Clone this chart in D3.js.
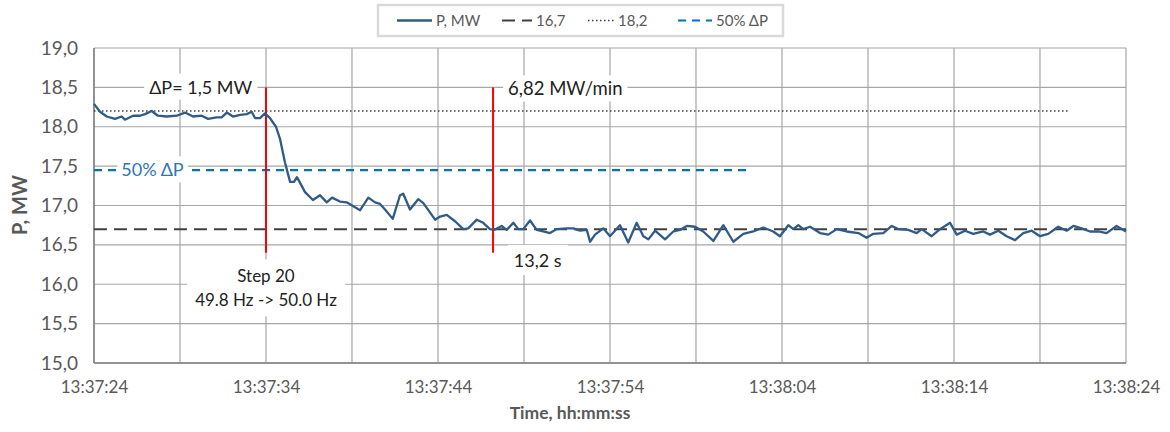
<!DOCTYPE html>
<html>
<head>
<meta charset="utf-8">
<script src="https://cdn.jsdelivr.net/npm/d3@7"></script>
<style>
  body { margin: 0; background: #fff; }
  svg { font-family: Lato, "Noto Sans", sans-serif; }
</style>
</head>
<body>
<div id="chart"></div>
<script>
var w = 1170;
var h = 432;

// seconds after 13:37:24
var secs = [0.0, 0.35, 0.74, 1.22, 1.61, 1.80, 2.27, 2.67, 2.97, 3.35, 3.72, 4.23, 4.81, 5.29, 5.76, 6.26,
  6.63, 7.13, 7.42, 7.72, 8.08, 8.49, 8.88, 9.17, 9.36, 9.65, 9.94, 10.23, 10.58, 10.81, 11.10, 11.40,
  11.63, 11.80, 12.27, 12.73, 13.14, 13.53, 13.84, 14.30, 14.69, 15.08, 15.47, 15.95, 16.34, 16.63, 16.92,
  17.37, 17.79, 17.98, 18.37, 18.85, 19.15, 19.83, 20.12, 20.51, 20.99, 21.47, 21.76, 22.25, 22.63, 23.02,
  23.26, 23.70, 23.99, 24.38, 24.67, 24.96, 25.35, 25.74, 26.12, 26.51, 26.90, 27.48, 27.87, 28.26, 28.65,
  28.84, 29.13, 29.61, 30.00, 30.58, 31.06, 31.55, 31.94, 32.23, 32.62, 33.20, 33.68, 34.07, 34.46, 34.94,
  35.42, 36.01, 36.59, 37.17, 37.75, 38.33, 38.91, 39.49, 39.88, 40.37, 40.66, 40.95, 41.24, 41.63, 42.21,
  42.69, 43.18, 43.76, 44.44, 44.92, 45.31, 45.89, 46.38, 46.76, 47.34, 47.83, 48.12, 48.70, 49.19, 49.77,
  50.16, 50.64, 51.12, 51.70, 52.09, 52.58, 53.06, 53.55, 54.03, 54.52, 55.00, 55.48, 56.06, 56.55, 56.94,
  57.42, 57.91, 58.39, 58.87, 59.45, 60.00];

var power = [18.29, 18.19, 18.13, 18.10, 18.13, 18.09, 18.14, 18.14, 18.16, 18.20, 18.14, 18.13, 18.14, 18.18, 18.13, 18.14,
  18.10, 18.12, 18.12, 18.18, 18.13, 18.15, 18.16, 18.19, 18.11, 18.11, 18.17, 18.11, 18.00, 17.85, 17.55, 17.30,
  17.30, 17.36, 17.17, 17.07, 17.13, 17.04, 17.10, 17.05, 17.04, 16.99, 16.94, 17.10, 17.04, 17.02, 16.95,
  16.83, 17.13, 17.15, 16.95, 17.08, 17.03, 16.82, 16.86, 16.88, 16.80, 16.70, 16.71, 16.82, 16.78, 16.70,
  16.69, 16.74, 16.69, 16.78, 16.70, 16.70, 16.81, 16.69, 16.67, 16.65, 16.70, 16.71, 16.71, 16.68, 16.69,
  16.54, 16.63, 16.71, 16.61, 16.75, 16.53, 16.78, 16.61, 16.57, 16.68, 16.57, 16.67, 16.69, 16.74, 16.73,
  16.67, 16.55, 16.75, 16.54, 16.64, 16.67, 16.72, 16.67, 16.61, 16.75, 16.70, 16.75, 16.70, 16.73, 16.65,
  16.63, 16.70, 16.67, 16.65, 16.59, 16.64, 16.65, 16.74, 16.70, 16.69, 16.65, 16.70, 16.61, 16.70, 16.78,
  16.63, 16.68, 16.64, 16.67, 16.63, 16.68, 16.61, 16.56, 16.65, 16.68, 16.61, 16.64, 16.73, 16.68, 16.74,
  16.71, 16.67, 16.67, 16.65, 16.74, 16.67];

// reference lines: value, start sec, end sec
var refNames = ["16,7", "18,2", "50% ΔP"];
var refValues = [16.7, 18.2, 17.45];
var refStart = [0, 0, 0];
var refEnd = [60, 56.7, 38];

// step markers (sec), drawn from 18.5 down to 16.4
var markerSecs = [10, 23.2];

var yTicks = [15, 15.5, 16, 16.5, 17, 17.5, 18, 18.5, 19];
var xGridSecs = [0, 5, 10, 15, 20, 25, 30, 35, 40, 45, 50, 55, 60];
var xLabelSecs = [0, 10, 20, 30, 40, 50, 60];

var t0 = new Date(2024, 0, 1, 13, 37, 24);
function toDate(s) { return new Date(t0.getTime() + s * 1000); }

var plotL = 94, plotR = 1126, plotT = 48, plotB = 363;

var x = d3.scaleTime().domain([t0, toDate(60)]).range([plotL, plotR]);
var y = d3.scaleLinear().domain([15, 19]).range([plotB, plotT]);

var svg = d3.select("#chart").append("svg").attr("width", w).attr("height", h);

// grid
svg.append("g").selectAll("line").data(yTicks).enter().append("line")
  .attr("x1", plotL).attr("x2", plotR)
  .attr("y1", function(d) { return y(d); }).attr("y2", function(d) { return y(d); })
  .attr("stroke", "#a6a6a6").attr("stroke-width", 1.2);
svg.append("g").selectAll("line").data(xGridSecs).enter().append("line")
  .attr("x1", function(d) { return x(toDate(d)); }).attr("x2", function(d) { return x(toDate(d)); })
  .attr("y1", plotT).attr("y2", plotB)
  .attr("stroke", "#a6a6a6").attr("stroke-width", 1.2);
svg.append("line").attr("x1", plotL).attr("x2", plotL).attr("y1", plotT).attr("y2", plotB)
  .attr("stroke", "#7f7f7f").attr("stroke-width", 1.5);
svg.append("line").attr("x1", plotL).attr("x2", plotR).attr("y1", plotB).attr("y2", plotB)
  .attr("stroke", "#7f7f7f").attr("stroke-width", 1.5);

// axes
var fmtY = function(d) { return d3.format(".1f")(d).replace(".", ","); };
var yAxis = svg.append("g").attr("transform", "translate(" + plotL + ",0)")
  .call(d3.axisLeft(y).tickValues(yTicks).tickFormat(fmtY).tickSize(0).tickPadding(16));
var xAxis = svg.append("g").attr("transform", "translate(0," + plotB + ")")
  .call(d3.axisBottom(x).tickValues(xLabelSecs.map(toDate)).tickFormat(d3.timeFormat("%H:%M:%S")).tickSize(0).tickPadding(18));
[yAxis, xAxis].forEach(function(a) {
  a.select(".domain").remove();
  a.selectAll("text").attr("fill", "#595959").style("font-family", "Lato, sans-serif");
});
yAxis.selectAll("text").style("font-size", "19px");
xAxis.selectAll("text").style("font-size", "17px");

// reference lines
var refStyles = [
  { color: "#404040", dash: "13,7", width: 2 },
  { color: "#404040", dash: "1.5,2.5", width: 1.5 },
  { color: "#0070c0", dash: "8,6", width: 2.2 }
];
refValues.forEach(function(v, i) {
  svg.append("line")
    .attr("x1", x(toDate(refStart[i]))).attr("x2", x(toDate(refEnd[i])))
    .attr("y1", y(v)).attr("y2", y(v))
    .attr("stroke", refStyles[i].color).attr("stroke-width", refStyles[i].width)
    .attr("stroke-dasharray", refStyles[i].dash);
});

// step markers
svg.selectAll(".marker").data(markerSecs).enter().append("line")
  .attr("x1", function(d) { return x(toDate(d)); }).attr("x2", function(d) { return x(toDate(d)); })
  .attr("y1", y(18.5)).attr("y2", y(16.4))
  .attr("stroke", "#ff0000").attr("stroke-width", 2);

// main series
var line = d3.line()
  .x(function(d, i) { return x(toDate(secs[i])); })
  .y(function(d) { return y(d); });
svg.append("path").datum(power).attr("d", line)
  .attr("fill", "none").attr("stroke", "#2f5b88").attr("stroke-width", 2.3)
  .attr("stroke-linejoin", "round");

// annotations with white boxes
function label(lines, cx, cy, color, pad, size) {
  var g = svg.append("g");
  var rect = g.append("rect").attr("fill", "#fff");
  var t = g.append("text").attr("text-anchor", "middle").attr("fill", color)
    .style("font-size", size + "px");
  lines.forEach(function(s, i) {
    t.append("tspan").attr("x", cx).attr("y", cy + i * 24).attr("dy", "0.35em").text(s);
  });
  var b = t.node().getBBox();
  rect.attr("x", b.x - pad[0]).attr("y", b.y - pad[1])
    .attr("width", b.width + 2 * pad[0]).attr("height", b.height + 2 * pad[1]);
}
label(["ΔP= 1,5 MW"], x(toDate(6.2)), y(18.5), "#222", [5, 2], 18);
label(["6,82 MW/min"], x(toDate(27.4)), y(18.48), "#222", [5, 2], 18.5);
label(["50% ΔP"], x(toDate(3.4)), y(17.45), "#2e75b6", [4, 2], 18);
label(["13,2 s"], x(toDate(25.8)), y(16.3), "#222", [6, 4], 18);
label(["Step 20", "49.8 Hz -> 50.0 Hz"], x(toDate(10)), y(16.1), "#222", [8, 6], 17);

// axis titles
svg.append("text").attr("x", 570).attr("y", 419).attr("text-anchor", "middle")
  .attr("fill", "#595959").style("font-size", "17.5px").style("font-weight", "bold")
  .text("Time, hh:mm:ss");
svg.append("text").attr("transform", "translate(27,205) rotate(-90)").attr("text-anchor", "middle")
  .attr("fill", "#595959").style("font-size", "20px").style("font-weight", "bold")
  .text("P, MW");

// legend
var legendItems = ["P, MW"].concat(refNames);
var legendStyles = [{ color: "#2f5b88", dash: null, width: 2.3 }].concat(refStyles);
var legendX = [397, 502, 588, 678];
var legendW = [35, 30, 26, 34];
svg.append("rect").attr("x", 378).attr("y", 5).attr("width", 405).attr("height", 31)
  .attr("fill", "#fff").attr("stroke", "#d9d9d9").attr("stroke-width", 2.5);
legendItems.forEach(function(name, i) {
  var s = legendStyles[i];
  svg.append("line").attr("x1", legendX[i]).attr("x2", legendX[i] + legendW[i])
    .attr("y1", 20.5).attr("y2", 20.5)
    .attr("stroke", s.color).attr("stroke-width", s.width)
    .attr("stroke-dasharray", s.dash);
  svg.append("text").attr("x", legendX[i] + legendW[i] + 4).attr("y", 20.5).attr("dy", "0.35em")
    .attr("fill", "#595959").style("font-size", "15px").text(name);
});
</script>
</body>
</html>
